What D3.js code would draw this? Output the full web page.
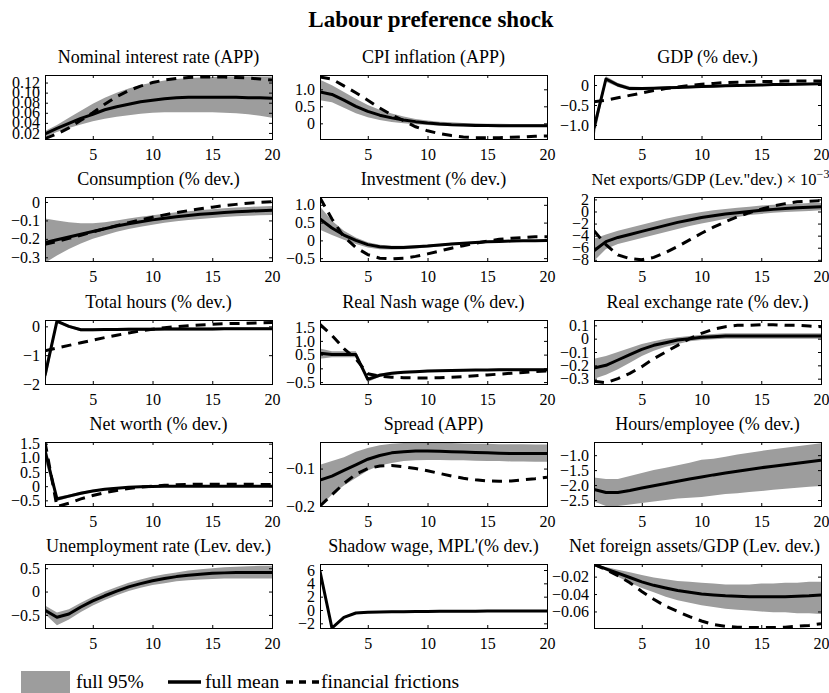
<!DOCTYPE html>
<html>
<head>
<meta charset="utf-8">
<script src="https://cdn.jsdelivr.net/npm/d3@7"></script>
<style>
  body { margin: 0; background: #fff; }
  svg { display: block; }
  text { font-family: "Liberation Serif", "Times New Roman", serif; fill: #000; }
</style>
</head>
<body>
<svg id="fig" width="829" height="693"></svg>
<script>
// Impulse-response horizon (quarters)
const steps = d3.range(1, 21);
const xTicks = [5, 10, 15, 20];

// Nominal interest rate (APP)
const interestRange = [0.008, 0.135];
const interestTicks = [0.02, 0.04, 0.06, 0.08, 0.10, 0.12];
const interestTickLabels = ["0.02", "0.04", "0.06", "0.08", "0.10", "0.12"];
const interestMean = [0.018,0.029,0.039,0.049,0.057,0.066,0.072,0.077,0.082,0.085,0.088,0.090,0.091,0.091,0.091,0.091,0.091,0.090,0.090,0.089];
const interestUpper = [0.024,0.036,0.050,0.064,0.078,0.090,0.100,0.108,0.115,0.120,0.124,0.127,0.129,0.130,0.131,0.132,0.132,0.132,0.132,0.132];
const interestLower = [0.012,0.022,0.030,0.037,0.043,0.048,0.052,0.055,0.058,0.060,0.061,0.061,0.061,0.061,0.061,0.060,0.059,0.057,0.054,0.050];
const interestFF = [0.009,0.018,0.030,0.045,0.060,0.077,0.092,0.104,0.113,0.120,0.125,0.128,0.130,0.131,0.131,0.131,0.130,0.129,0.127,0.125];

// CPI inflation (APP)
const cpiRange = [-0.46, 1.42];
const cpiTicks = [0, 0.5, 1.0];
const cpiTickLabels = ["0", "0.5", "1.0"];
const cpiMean = [0.92,0.85,0.68,0.50,0.35,0.24,0.16,0.10,0.05,0.01,-0.02,-0.04,-0.05,-0.06,-0.06,-0.07,-0.07,-0.07,-0.07,-0.07];
const cpiUpper = [1.28,1.12,0.92,0.72,0.54,0.40,0.29,0.20,0.13,0.08,0.05,0.03,0.01,0.00,-0.01,-0.01,-0.02,-0.02,-0.02,-0.02];
const cpiLower = [0.68,0.62,0.46,0.30,0.18,0.10,0.04,0.00,-0.03,-0.05,-0.07,-0.08,-0.09,-0.10,-0.10,-0.11,-0.11,-0.11,-0.11,-0.11];
const cpiFF = [1.36,1.30,1.10,0.90,0.68,0.45,0.25,0.08,-0.10,-0.22,-0.30,-0.36,-0.40,-0.42,-0.42,-0.42,-0.41,-0.40,-0.38,-0.37];

// GDP (% dev.)
const gdpRange = [-1.35, 0.25];
const gdpTicks = [-1.0, -0.5, 0];
const gdpTickLabels = ["\u22121.0", "\u22120.5", "0"];
const gdpMean = [-1.08,0.15,0.00,-0.09,-0.09,-0.08,-0.07,-0.06,-0.05,-0.04,-0.03,-0.02,-0.01,-0.005,0.00,0.01,0.015,0.02,0.025,0.03];
const gdpUpper = [-0.92,0.22,0.05,-0.04,-0.05,-0.05,-0.04,-0.03,-0.02,-0.01,0.00,0.01,0.015,0.02,0.025,0.03,0.035,0.04,0.045,0.05];
const gdpLower = [-1.33,0.08,-0.05,-0.13,-0.13,-0.11,-0.10,-0.09,-0.08,-0.07,-0.06,-0.05,-0.04,-0.03,-0.025,-0.02,-0.01,-0.005,0.00,0.01];
const gdpFF = [-0.42,-0.38,-0.32,-0.26,-0.20,-0.14,-0.09,-0.05,-0.01,0.02,0.04,0.06,0.07,0.08,0.09,0.09,0.10,0.10,0.10,0.10];

// Consumption (% dev.)
const consRange = [-0.32, 0.027];
const consTicks = [-0.3, -0.2, -0.1, 0];
const consTickLabels = ["\u22120.3", "\u22120.2", "\u22120.1", "0"];
const consMean = [-0.22,-0.205,-0.19,-0.175,-0.16,-0.145,-0.13,-0.118,-0.107,-0.097,-0.088,-0.080,-0.073,-0.067,-0.062,-0.057,-0.053,-0.050,-0.047,-0.045];
const consUpper = [-0.09,-0.10,-0.11,-0.115,-0.115,-0.11,-0.10,-0.09,-0.08,-0.072,-0.064,-0.056,-0.050,-0.044,-0.039,-0.034,-0.030,-0.027,-0.024,-0.022];
const consLower = [-0.33,-0.29,-0.255,-0.225,-0.20,-0.18,-0.162,-0.147,-0.134,-0.123,-0.113,-0.105,-0.098,-0.092,-0.087,-0.082,-0.078,-0.075,-0.072,-0.070];
const consFF = [-0.23,-0.215,-0.197,-0.18,-0.162,-0.145,-0.128,-0.112,-0.097,-0.083,-0.070,-0.058,-0.047,-0.037,-0.028,-0.020,-0.013,-0.007,-0.002,0.002];

// Investment (% dev.)
const invRange = [-0.58, 1.22];
const invTicks = [-0.5, 0, 0.5, 1.0];
const invTickLabels = ["\u22120.5", "0", "0.5", "1.0"];
const invMean = [0.60,0.35,0.15,0.00,-0.12,-0.18,-0.20,-0.20,-0.18,-0.16,-0.13,-0.10,-0.08,-0.06,-0.04,-0.03,-0.02,-0.01,-0.01,0.00];
const invUpper = [0.95,0.55,0.27,0.08,-0.05,-0.12,-0.15,-0.15,-0.14,-0.12,-0.10,-0.07,-0.05,-0.03,-0.02,-0.01,0.00,0.01,0.01,0.02];
const invLower = [0.30,0.15,0.02,-0.10,-0.20,-0.25,-0.26,-0.25,-0.23,-0.20,-0.17,-0.14,-0.11,-0.09,-0.07,-0.06,-0.05,-0.04,-0.03,-0.03];
const invFF = [1.20,0.60,0.10,-0.20,-0.40,-0.50,-0.52,-0.50,-0.45,-0.38,-0.30,-0.22,-0.15,-0.08,-0.02,0.03,0.06,0.08,0.10,0.10];

// Net exports/GDP (level dev., x 10^-3)
const nxRange = [-8.2, 2.4];
const nxTicks = [-8, -6, -4, -2, 0, 2];
const nxTickLabels = ["\u22128", "\u22126", "\u22124", "\u22122", "0", "2"];
const nxMean = [-6.5,-5.0,-4.3,-3.8,-3.3,-2.8,-2.3,-1.8,-1.4,-1.0,-0.7,-0.4,-0.2,0.0,0.2,0.35,0.5,0.6,0.7,0.8];
const nxUpper = [-4.5,-3.8,-3.2,-2.7,-2.2,-1.7,-1.2,-0.8,-0.4,-0.1,0.2,0.4,0.6,0.8,1.0,1.1,1.2,1.3,1.4,1.4];
const nxLower = [-8.2,-6.2,-5.4,-4.9,-4.4,-3.9,-3.4,-2.9,-2.4,-2.0,-1.6,-1.2,-0.9,-0.6,-0.4,-0.2,-0.1,0.0,0.1,0.2];
const nxFF = [-3.2,-5.5,-7.2,-7.8,-8.0,-7.6,-6.8,-5.8,-4.7,-3.6,-2.6,-1.7,-0.9,-0.2,0.4,0.9,1.3,1.6,1.7,1.8];

// Total hours (% dev.)
const hoursRange = [-2.0, 0.22];
const hoursTicks = [-2, -1, 0];
const hoursTickLabels = ["\u22122", "\u22121", "0"];
const hoursMean = [-1.70,0.18,0.00,-0.12,-0.12,-0.11,-0.11,-0.10,-0.10,-0.10,-0.09,-0.09,-0.09,-0.09,-0.09,-0.08,-0.08,-0.08,-0.08,-0.08];
const hoursUpper = [-1.40,0.22,0.05,-0.07,-0.07,-0.06,-0.06,-0.05,-0.05,-0.05,-0.04,-0.04,-0.04,-0.04,-0.04,-0.03,-0.03,-0.03,-0.03,-0.03];
const hoursLower = [-2.00,0.12,-0.05,-0.17,-0.17,-0.16,-0.16,-0.15,-0.15,-0.15,-0.14,-0.14,-0.14,-0.14,-0.14,-0.13,-0.13,-0.13,-0.13,-0.13];
const hoursFF = [-0.85,-0.75,-0.66,-0.57,-0.48,-0.39,-0.31,-0.23,-0.16,-0.10,-0.05,-0.01,0.02,0.05,0.07,0.09,0.10,0.11,0.12,0.13];

// Real Nash wage (% dev.)
const wageRange = [-0.57, 1.76];
const wageTicks = [-0.5, 0, 0.5, 1.0, 1.5];
const wageTickLabels = ["\u22120.5", "0", "0.5", "1.0", "1.5"];
const wageMean = [0.55,0.50,0.50,0.50,-0.40,-0.25,-0.18,-0.14,-0.12,-0.10,-0.09,-0.08,-0.07,-0.06,-0.06,-0.05,-0.05,-0.05,-0.05,-0.05];
const wageUpper = [0.72,0.62,0.62,0.62,-0.32,-0.19,-0.13,-0.10,-0.08,-0.06,-0.05,-0.04,-0.03,-0.02,-0.02,-0.01,-0.01,-0.01,-0.01,-0.01];
const wageLower = [0.35,0.40,0.40,0.40,-0.50,-0.31,-0.23,-0.18,-0.16,-0.14,-0.13,-0.12,-0.11,-0.10,-0.10,-0.09,-0.09,-0.09,-0.09,-0.09];
const wageFF = [1.60,1.20,0.72,0.35,-0.20,-0.28,-0.32,-0.34,-0.35,-0.35,-0.34,-0.32,-0.30,-0.27,-0.24,-0.21,-0.18,-0.15,-0.12,-0.10];

// Real exchange rate (% dev.)
const rerRange = [-0.34, 0.14];
const rerTicks = [-0.3, -0.2, -0.1, 0, 0.1];
const rerTickLabels = ["\u22120.3", "\u22120.2", "\u22120.1", "0", "0.1"];
const rerMean = [-0.22,-0.20,-0.16,-0.12,-0.08,-0.05,-0.03,-0.01,0.00,0.01,0.015,0.02,0.02,0.02,0.02,0.02,0.02,0.02,0.02,0.02];
const rerUpper = [-0.15,-0.13,-0.10,-0.07,-0.04,-0.02,0.00,0.01,0.02,0.03,0.035,0.04,0.04,0.04,0.04,0.04,0.04,0.04,0.04,0.04];
const rerLower = [-0.30,-0.27,-0.23,-0.18,-0.13,-0.09,-0.06,-0.04,-0.02,-0.01,-0.005,0.00,0.00,0.00,0.00,0.00,0.00,0.00,0.00,0.00];
const rerFF = [-0.32,-0.33,-0.30,-0.26,-0.21,-0.15,-0.10,-0.05,0.00,0.04,0.07,0.09,0.10,0.10,0.105,0.105,0.10,0.10,0.095,0.09];

// Net worth (% dev.)
const worthRange = [-0.7, 1.56];
const worthTicks = [-0.5, 0, 0.5, 1.0, 1.5];
const worthTickLabels = ["\u22120.5", "0", "0.5", "1.0", "1.5"];
const worthMean = [1.25,-0.45,-0.35,-0.25,-0.17,-0.11,-0.07,-0.04,-0.02,-0.01,0.00,0.00,0.00,0.00,0.00,0.00,0.00,0.00,0.00,0.00];
const worthUpper = [1.56,-0.38,-0.29,-0.20,-0.13,-0.08,-0.04,-0.02,0.00,0.01,0.02,0.02,0.02,0.02,0.02,0.02,0.02,0.02,0.02,0.02];
const worthLower = [0.90,-0.52,-0.41,-0.30,-0.21,-0.14,-0.10,-0.07,-0.05,-0.04,-0.03,-0.02,-0.02,-0.02,-0.02,-0.02,-0.02,-0.02,-0.02,-0.02];
const worthFF = [1.56,-0.72,-0.60,-0.45,-0.33,-0.23,-0.15,-0.08,-0.03,0.00,0.03,0.05,0.06,0.07,0.07,0.07,0.07,0.07,0.06,0.06];

// Spread (APP)
const spreadRange = [-0.2, -0.029];
const spreadTicks = [-0.2, -0.1];
const spreadTickLabels = ["\u22120.2", "\u22120.1"];
const spreadMean = [-0.131,-0.12,-0.105,-0.09,-0.075,-0.065,-0.058,-0.055,-0.053,-0.053,-0.054,-0.055,-0.056,-0.057,-0.058,-0.059,-0.060,-0.060,-0.060,-0.060];
const spreadUpper = [-0.09,-0.08,-0.07,-0.055,-0.045,-0.038,-0.034,-0.032,-0.031,-0.031,-0.032,-0.032,-0.033,-0.034,-0.034,-0.035,-0.035,-0.035,-0.036,-0.036];
const spreadLower = [-0.20,-0.17,-0.145,-0.125,-0.105,-0.092,-0.085,-0.080,-0.078,-0.077,-0.077,-0.078,-0.078,-0.079,-0.080,-0.080,-0.081,-0.081,-0.082,-0.082];
const spreadFF = [-0.20,-0.17,-0.14,-0.115,-0.10,-0.093,-0.092,-0.095,-0.10,-0.106,-0.113,-0.12,-0.126,-0.13,-0.133,-0.134,-0.133,-0.13,-0.127,-0.123];

// Hours/employee (% dev.)
const hpeRange = [-2.7, -0.56];
const hpeTicks = [-2.5, -2.0, -1.5, -1.0];
const hpeTickLabels = ["\u22122.5", "\u22122.0", "\u22121.5", "\u22121.0"];
const hpeMean = [-2.15,-2.25,-2.25,-2.18,-2.10,-2.02,-1.95,-1.87,-1.80,-1.73,-1.66,-1.60,-1.54,-1.48,-1.42,-1.37,-1.32,-1.27,-1.22,-1.17];
const hpeUpper = [-1.75,-1.80,-1.80,-1.70,-1.60,-1.50,-1.42,-1.34,-1.25,-1.15,-1.12,-1.05,-0.98,-0.92,-0.86,-0.80,-0.75,-0.70,-0.65,-0.60];
const hpeLower = [-2.55,-2.70,-2.70,-2.65,-2.60,-2.55,-2.50,-2.45,-2.42,-2.40,-2.35,-2.30,-2.27,-2.23,-2.20,-2.16,-2.12,-2.09,-2.06,-2.03];

// Unemployment rate (level dev.)
const unempRange = [-0.78, 0.59];
const unempTicks = [-0.5, 0, 0.5];
const unempTickLabels = ["\u22120.5", "0", "0.5"];
const unempMean = [-0.40,-0.55,-0.48,-0.33,-0.20,-0.09,0.01,0.10,0.17,0.23,0.28,0.32,0.35,0.37,0.39,0.40,0.41,0.41,0.41,0.41];
const unempUpper = [-0.30,-0.45,-0.38,-0.24,-0.11,0.00,0.10,0.19,0.26,0.32,0.37,0.41,0.45,0.48,0.50,0.52,0.53,0.54,0.55,0.55];
const unempLower = [-0.48,-0.72,-0.60,-0.44,-0.30,-0.18,-0.08,0.01,0.08,0.14,0.18,0.22,0.24,0.26,0.27,0.28,0.28,0.28,0.28,0.28];

// Shadow wage, MPL (% dev.)
const shadowRange = [-2.7, 6.9];
const shadowTicks = [-2, 0, 2, 4, 6];
const shadowTickLabels = ["\u22122", "0", "2", "4", "6"];
const shadowMean = [5.8,-2.7,-1.1,-0.45,-0.35,-0.30,-0.27,-0.25,-0.23,-0.21,-0.20,-0.19,-0.18,-0.17,-0.16,-0.15,-0.15,-0.15,-0.15,-0.15];
const shadowUpper = [5.95,-2.55,-0.95,-0.30,-0.20,-0.15,-0.12,-0.10,-0.08,-0.06,-0.05,-0.04,-0.03,-0.02,-0.01,0.00,0.00,0.00,0.00,0.00];
const shadowLower = [5.65,-2.85,-1.25,-0.60,-0.50,-0.45,-0.42,-0.40,-0.38,-0.36,-0.35,-0.34,-0.33,-0.32,-0.31,-0.30,-0.30,-0.30,-0.30,-0.30];

// Net foreign assets/GDP (level dev.)
const nfaRange = [-0.079, -0.0055];
const nfaTicks = [-0.06, -0.04, -0.02];
const nfaTickLabels = ["\u22120.06", "\u22120.04", "\u22120.02"];
const nfaMean = [-0.006,-0.011,-0.016,-0.021,-0.026,-0.030,-0.033,-0.036,-0.038,-0.040,-0.041,-0.042,-0.0425,-0.043,-0.043,-0.043,-0.043,-0.0425,-0.042,-0.041];
const nfaUpper = [-0.0055,-0.009,-0.012,-0.015,-0.018,-0.021,-0.023,-0.025,-0.026,-0.027,-0.028,-0.029,-0.029,-0.029,-0.028,-0.028,-0.027,-0.027,-0.026,-0.026];
const nfaLower = [-0.007,-0.013,-0.020,-0.027,-0.033,-0.038,-0.043,-0.047,-0.050,-0.053,-0.055,-0.057,-0.058,-0.059,-0.060,-0.061,-0.061,-0.062,-0.062,-0.063];
const nfaFF = [-0.006,-0.012,-0.019,-0.027,-0.037,-0.046,-0.054,-0.060,-0.066,-0.071,-0.075,-0.077,-0.078,-0.0785,-0.0785,-0.0785,-0.078,-0.077,-0.076,-0.074];

const panels = [
  { title: "Nominal interest rate (APP)", range: interestRange, ticks: interestTicks, labels: interestTickLabels, mean: interestMean, upper: interestUpper, lower: interestLower, ff: interestFF },
  { title: "CPI inflation (APP)", range: cpiRange, ticks: cpiTicks, labels: cpiTickLabels, mean: cpiMean, upper: cpiUpper, lower: cpiLower, ff: cpiFF },
  { title: "GDP (% dev.)", range: gdpRange, ticks: gdpTicks, labels: gdpTickLabels, mean: gdpMean, upper: gdpUpper, lower: gdpLower, ff: gdpFF },
  { title: "Consumption (% dev.)", range: consRange, ticks: consTicks, labels: consTickLabels, mean: consMean, upper: consUpper, lower: consLower, ff: consFF },
  { title: "Investment (% dev.)", range: invRange, ticks: invTicks, labels: invTickLabels, mean: invMean, upper: invUpper, lower: invLower, ff: invFF },
  { title: "Net exports/GDP (Lev.\"dev.) \u00d7 10", sup: "\u22123", titleSize: 16.5, titleShift: 3, range: nxRange, ticks: nxTicks, labels: nxTickLabels, mean: nxMean, upper: nxUpper, lower: nxLower, ff: nxFF },
  { title: "Total hours (% dev.)", range: hoursRange, ticks: hoursTicks, labels: hoursTickLabels, mean: hoursMean, upper: hoursUpper, lower: hoursLower, ff: hoursFF },
  { title: "Real Nash wage (% dev.)", range: wageRange, ticks: wageTicks, labels: wageTickLabels, mean: wageMean, upper: wageUpper, lower: wageLower, ff: wageFF },
  { title: "Real exchange rate (% dev.)", range: rerRange, ticks: rerTicks, labels: rerTickLabels, mean: rerMean, upper: rerUpper, lower: rerLower, ff: rerFF },
  { title: "Net worth (% dev.)", range: worthRange, ticks: worthTicks, labels: worthTickLabels, mean: worthMean, upper: worthUpper, lower: worthLower, ff: worthFF },
  { title: "Spread (APP)", range: spreadRange, ticks: spreadTicks, labels: spreadTickLabels, mean: spreadMean, upper: spreadUpper, lower: spreadLower, ff: spreadFF },
  { title: "Hours/employee (% dev.)", range: hpeRange, ticks: hpeTicks, labels: hpeTickLabels, mean: hpeMean, upper: hpeUpper, lower: hpeLower, ff: null },
  { title: "Unemployment rate (Lev. dev.)", range: unempRange, ticks: unempTicks, labels: unempTickLabels, mean: unempMean, upper: unempUpper, lower: unempLower, ff: null },
  { title: "Shadow wage, MPL'(% dev.)", range: shadowRange, ticks: shadowTicks, labels: shadowTickLabels, mean: shadowMean, upper: shadowUpper, lower: shadowLower, ff: null },
  { title: "Net foreign assets/GDP (Lev. dev.)", titleShift: -13, range: nfaRange, ticks: nfaTicks, labels: nfaTickLabels, mean: nfaMean, upper: nfaUpper, lower: nfaLower, ff: nfaFF }
];

const bandColor = "#9d9d9d";
const W = 227, H = 64;
const colX = [45, 320, 594];
const rowY = [75, 197.25, 319.5, 441.75, 564];
const tickFont = 16;

const svg = d3.select("#fig");

svg.append("text")
  .attr("x", 431).attr("y", 27)
  .attr("text-anchor", "middle")
  .attr("font-size", 23).attr("font-weight", "bold")
  .text("Labour preference shock");

panels.forEach((p, i) => {
  const c = i % 3, r = Math.floor(i / 3);
  const g = svg.append("g").attr("transform", `translate(${colX[c]},${Math.round(rowY[r])})`);
  const x = d3.scaleLinear().domain([1, 20]).range([0, W]);
  const y = d3.scaleLinear().domain(p.range).range([H, 0]);

  const clipId = "clip" + i;
  g.append("clipPath").attr("id", clipId)
    .append("rect").attr("width", W).attr("height", H);
  const plot = g.append("g").attr("clip-path", `url(#${clipId})`);

  // 95% band
  const band = d3.area()
    .x((d, k) => x(steps[k]))
    .y0((d, k) => y(p.lower[k]))
    .y1((d, k) => y(p.upper[k]));
  plot.append("path").datum(p.mean).attr("d", band).attr("fill", bandColor);

  const line = d3.line().x((d, k) => x(steps[k])).y(d => y(d));
  if (p.ff) {
    plot.append("path").datum(p.ff).attr("d", line)
      .attr("fill", "none").attr("stroke", "#000")
      .attr("stroke-width", 3).attr("stroke-dasharray", "10,7");
  }
  plot.append("path").datum(p.mean).attr("d", line)
    .attr("fill", "none").attr("stroke", "#000")
    .attr("stroke-width", 3).attr("stroke-linejoin", "round");

  // inward ticks on all four sides, labels on bottom and left
  const styleAxis = sel => {
    sel.select(".domain").remove();
    sel.selectAll(".tick line").attr("stroke", "#000");
    sel.selectAll("text").attr("font-family", null).attr("font-size", tickFont).attr("fill", "#000");
    sel.attr("font-family", null);
  };
  g.append("g").attr("transform", `translate(0,${H})`)
    .call(d3.axisBottom(x).tickValues(xTicks).tickSize(-3).tickPadding(10))
    .call(styleAxis);
  g.append("g")
    .call(d3.axisTop(x).tickValues(xTicks).tickSize(-3).tickFormat(""))
    .call(styleAxis);
  g.append("g")
    .call(d3.axisLeft(y).tickValues(p.ticks).tickSize(-3).tickPadding(5)
      .tickFormat((d, k) => p.labels[k]))
    .call(styleAxis);
  g.append("g").attr("transform", `translate(${W},0)`)
    .call(d3.axisRight(y).tickValues(p.ticks).tickSize(-3).tickFormat(""))
    .call(styleAxis);

  g.append("rect").attr("x", 0.5).attr("y", 0.5).attr("width", W).attr("height", H)
    .attr("fill", "none").attr("stroke", "#000").attr("stroke-width", 1);

  const t = g.append("text")
    .attr("x", W / 2 + (p.titleShift || 0)).attr("y", -12)
    .attr("text-anchor", "middle").attr("font-size", p.titleSize || 18)
    .text(p.title);
  if (p.sup) {
    t.append("tspan").attr("dy", -7).attr("font-size", 12).text(p.sup);
  }
});

// legend
const legend = svg.append("g");
legend.append("rect").attr("x", 21).attr("y", 671).attr("width", 49).attr("height", 22).attr("fill", bandColor);
legend.append("text").attr("x", 76).attr("y", 688).attr("font-size", 19.5).text("full 95%");
legend.append("line").attr("x1", 168).attr("x2", 201).attr("y1", 682).attr("y2", 682)
  .attr("stroke", "#000").attr("stroke-width", 3.5);
legend.append("text").attr("x", 205).attr("y", 688).attr("font-size", 19.5).text("full mean");
legend.append("line").attr("x1", 286).attr("x2", 319).attr("y1", 682).attr("y2", 682)
  .attr("stroke", "#000").attr("stroke-width", 3.5).attr("stroke-dasharray", "7,6");
legend.append("text").attr("x", 321).attr("y", 688).attr("font-size", 19.5).text("financial frictions");
</script>
</body>
</html>
